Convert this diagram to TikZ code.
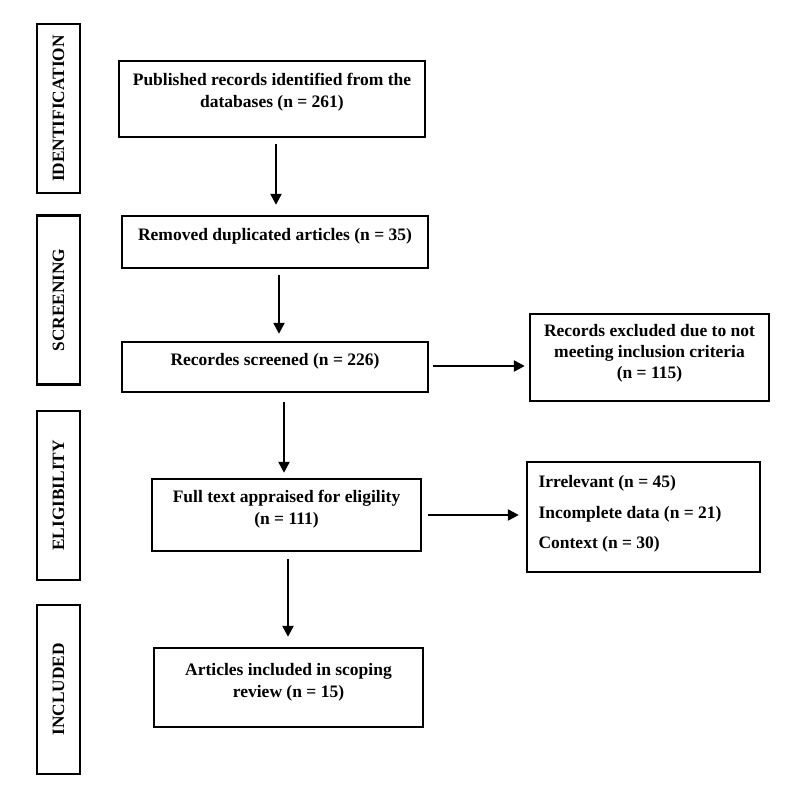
\documentclass[tikz,border=0pt]{standalone}
\usepackage{fontspec}
\setmainfont{Liberation Serif}
\usetikzlibrary{arrows.meta}

\begin{document}
\begin{tikzpicture}[
    x=1pt, y=-1pt,
    >={Triangle[length=11pt,width=11pt]},
    flow/.style={->, line width=2.3pt},
    box/.style={draw, line width=2.4pt, inner sep=0pt},
    stage/.style={box, rotate=90, minimum width=169pt, minimum height=43pt,
      font=\fontsize{17.3}{20}\selectfont\bfseries},
    txt/.style={font=\fontsize{17.5}{22}\selectfont\bfseries, align=center},
    listtxt/.style={font=\fontsize{17.5}{30.5}\selectfont\bfseries, align=left, anchor=west}
  ]
  \useasboundingbox (0,0) rectangle (800,800);

  % Stages
  \node[stage] (sident) at (58.5,108.5) {IDENTIFICATION};
  \node[stage] (sscreen) at (58.5,300) {SCREENING};
  \node[stage] (selig) at (58.5,495.5) {ELIGIBILITY};
  \node[stage] (sincl) at (58.5,689.5) {INCLUDED};

  % Main column
  \node[box, minimum width=306pt, minimum height=76pt] (pub) at (272,99) {};
  \node[txt] (pubtxt) at (272,92.5)
    {Published records identified from the\\databases (n = 261)};
  \node[box, minimum width=306pt, minimum height=52pt] (rem) at (275,242) {};
  \node[txt] (remtxt) at (275,236) {Removed duplicated articles (n = 35)};
  \node[box, minimum width=306pt, minimum height=50pt] (scr) at (275,367) {};
  \node[txt] (scrtxt) at (275,361) {Recordes screened (n = 226)};
  \node[box, minimum width=269pt, minimum height=72pt] (full) at (286.5,515) {};
  \node[txt] (fulltxt) at (286.5,509)
    {Full text appraised for eligility\\(n = 111)};
  \node[box, minimum width=269pt, minimum height=79pt] (art) at (288.5,687.5) {};
  \node[txt] (arttxt) at (288.5,682)
    {Articles included in scoping\\review (n = 15)};

  % Exclusions
  \node[box, minimum width=239pt, minimum height=87pt] (exc) at (649.5,357.5) {};
  \node[txt, font=\fontsize{17.5}{21}\selectfont\bfseries] (exctxt) at (649.5,353)
    {Records excluded due to not\\meeting inclusion criteria\\(n = 115)};
  \node[box, minimum width=233pt, minimum height=110pt] (irr) at (643.5,517) {};
  \node[listtxt] (irrtxt) at (535,514)
    {Irrelevant (n = 45)\\Incomplete data (n = 21)\\Context (n = 30)};

  % Arrows
  \draw[flow] ([xshift=4pt,yshift=-6pt]pub.south) -- ([xshift=1pt,yshift=10pt]rem.north);
  \draw[flow] ([xshift=4pt,yshift=-6pt]rem.south) -- ([xshift=4pt,yshift=7pt]scr.north);
  \draw[flow] ([xshift=9pt,yshift=-9pt]scr.south) -- ([xshift=-2.5pt,yshift=5pt]full.north);
  \draw[flow] ([xshift=1.5pt,yshift=-7pt]full.south) -- ([xshift=-0.5pt,yshift=10pt]art.north);
  \draw[flow] ([xshift=4pt,yshift=1pt]scr.east) -- ([xshift=-4pt,yshift=-8.5pt]exc.west);
  \draw[flow] ([xshift=6pt]full.east) -- ([xshift=-7pt,yshift=2pt]irr.west);
\end{tikzpicture}
\end{document}
